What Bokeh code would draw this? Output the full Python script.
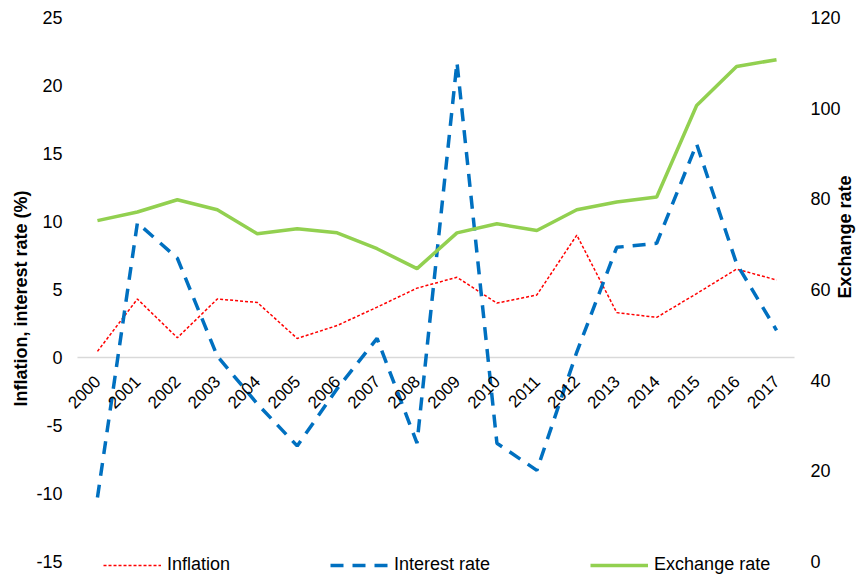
import math
from bokeh.plotting import figure
from bokeh.models import (Range1d, LinearAxis, FixedTicker, Legend,
                          LegendItem, ColumnDataSource)
from bokeh.core.properties import value
from bokeh.embed import file_html
from bokeh.resources import INLINE

years = [str(y) for y in range(2000, 2018)]
inflation = [0.45, 4.3, 1.45, 4.3, 4.05, 1.4, 2.35, 3.7, 5.1, 5.9,
             4.0, 4.6, 9.0, 3.3, 2.95, 4.7, 6.5, 5.7]
interest = [-10.3, 9.9, 7.3, 0.1, -3.4, -6.5, -2.3, 1.4, -6.3, 21.7,
            -6.3, -8.3, 0.4, 8.1, 8.4, 15.7, 6.9, 2.0]
exchange = [75.2, 77.1, 79.8, 77.6, 72.3, 73.4, 72.5, 69.0, 64.6, 72.5,
            74.5, 73.0, 77.6, 79.3, 80.4, 100.6, 109.2, 110.7]
left_ticks = [-15, -10, -5, 0, 5, 10, 15, 20, 25]
right_ticks = [0, 20, 40, 60, 80, 100, 120]

FONT = "Liberation Sans"
pos = list(range(len(years)))          # category positions
n = len(years)

# layout constants (pixels of the frame, and range padding)
W, H = 867, 579
FR_L, FR_R, FR_T = 66, 795, 17
STEP = (777 - 97) / (n - 1)            # pixel distance between categories
X_START = -(97 - FR_L) / STEP
X_END = (n - 1) + (FR_R - 777) / STEP
PX_PER_UNIT = (561 - 17) / 40.0
Y_BOTTOM = 25 - (H - FR_T) / PX_PER_UNIT

p = figure(x_range=Range1d(X_START, X_END), y_range=Range1d(Y_BOTTOM, 25),
           width=W, height=H, output_backend="svg",
           toolbar_location=None, min_border_left=FR_L,
           min_border_right=W - FR_R, min_border_top=FR_T,
           min_border_bottom=0)
p.extra_y_ranges = {"fx": Range1d((Y_BOTTOM + 15) * 3, 120)}
p.xaxis.visible = False
p.xgrid.visible = False
p.ygrid.visible = False
p.outline_line_color = None

def style_axis(ax):
    ax.axis_line_color = None
    ax.major_tick_line_color = None
    ax.minor_tick_line_color = None
    ax.major_tick_out = 0
    ax.major_tick_in = 0
    ax.minor_tick_out = 0
    ax.minor_tick_in = 0
    ax.major_label_text_font = FONT
    ax.major_label_text_font_size = "18px"
    ax.major_label_text_color = "#000000"
    ax.axis_label_text_font = FONT
    ax.axis_label_text_font_style = "bold"
    ax.axis_label_text_font_size = "18px"
    ax.axis_label_text_color = "#000000"

yl = p.yaxis[0]
style_axis(yl)
yl.ticker = FixedTicker(ticks=left_ticks)
yl.major_label_overrides = {t: str(t) for t in left_ticks}
yl.major_label_standoff = 4
yl.axis_label = "Inflation, interest rate (%)"
yl.axis_label_standoff = 2

yr = LinearAxis(y_range_name="fx", ticker=FixedTicker(ticks=right_ticks))
style_axis(yr)
yr.major_label_standoff = 16
yr.axis_label = "Exchange rate"
yr.axis_label_standoff = 1
if "axis_label_orientation" in LinearAxis.properties():
    yr.axis_label_orientation = math.pi / 2
p.add_layout(yr, "right")

# zero line across the category area
p.segment(x0=[pos[0] - 0.5], x1=[pos[-1] + 0.5], y0=[0], y1=[0],
          line_color="#D9D9D9", line_width=1.5)

r1 = p.line(pos, inflation, line_color="#FF0000", line_width=1.5,
            line_dash="3 2")
r2 = p.line(pos, interest, line_color="#0070C0", line_width=3.5,
            line_dash="13 9")
r3 = p.line(pos, exchange, line_color="#92D050", line_width=3.5,
            y_range_name="fx")

src = ColumnDataSource(dict(x=pos, y=[0] * n, t=years))
p.text(x="x", y="y", text="t", source=src, angle=math.pi / 4,
       text_align="right", text_baseline="middle", y_offset=21,
       text_font=value(FONT), text_font_size="17px", text_color="#000000")

legend = Legend(items=[LegendItem(label="Inflation", renderers=[r1]),
                       LegendItem(label="Interest rate", renderers=[r2]),
                       LegendItem(label="Exchange rate", renderers=[r3])],
                orientation="horizontal", location=(37, 4),
                glyph_width=58, glyph_height=20, label_standoff=6,
                spacing=100, padding=0, margin=0, border_line_color=None,
                background_fill_alpha=0, label_text_font=FONT,
                label_text_font_size="18px", label_text_color="#000000",
                label_height=20)
p.add_layout(legend)

open("out.html", "w").write(file_html(p, INLINE))
